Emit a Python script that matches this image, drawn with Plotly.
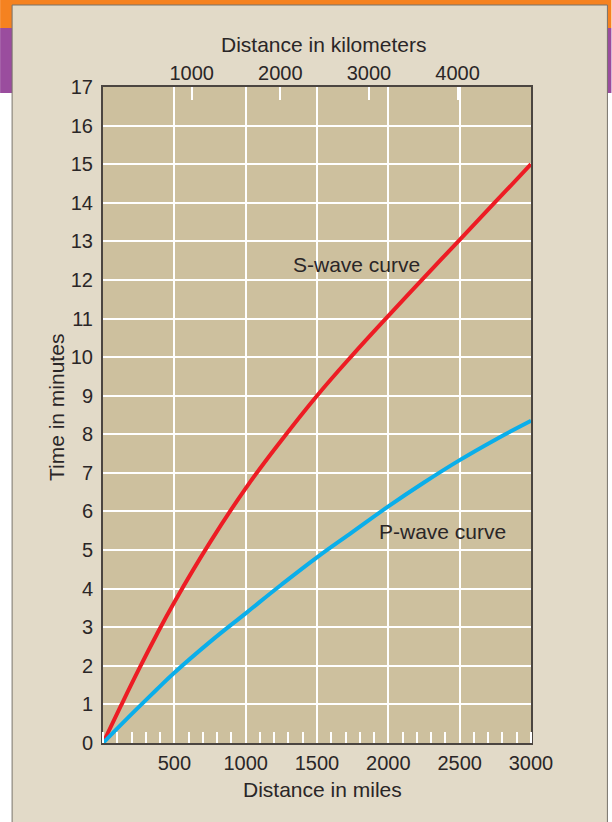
import plotly.graph_objects as go

# ---- data ----
miles = [0, 125, 250, 375, 500, 750, 1000, 1250, 1500, 1750, 2000, 2250, 2500, 2750, 3000]
s_wave = [0, 0.96, 1.9, 2.8, 3.65, 5.2, 6.6, 7.84, 9.0, 10.06, 11.07, 12.06, 13.04, 14.02, 15.0]
p_wave = [0, 0.47, 0.93, 1.38, 1.82, 2.62, 3.36, 4.1, 4.81, 5.47, 6.13, 6.75, 7.33, 7.86, 8.35]
mile_ticks = [500, 1000, 1500, 2000, 2500, 3000]
km_ticks = [1000, 2000, 3000, 4000]
minute_ticks = list(range(0, 18))
KM_PER_MILE = 1.609344

W, H = 612, 822
L, R, T, B = 103, 531.5, 87, 743  # plot area in px

def px(x):
    return (x - L) / (R - L)

def py(y):
    return (B - y) / (B - T)

TXT = "#2a2627"
FONT = "Liberation Sans, Arial, Helvetica, sans-serif"

fig = go.Figure()
fig.add_trace(go.Scatter(x=miles, y=s_wave, mode="lines",
                         line=dict(color="#ed1c24", width=4, shape="spline", smoothing=1.2),
                         showlegend=False, hoverinfo="skip"))
fig.add_trace(go.Scatter(x=miles, y=p_wave, mode="lines",
                         line=dict(color="#0aaeea", width=4, shape="spline", smoothing=1.2),
                         showlegend=False, hoverinfo="skip"))
# invisible trace on the kilometre axis so it is drawn
fig.add_trace(go.Scatter(x=[m * KM_PER_MILE for m in miles], y=s_wave, xaxis="x2", mode="lines",
                         line=dict(width=0), opacity=0, showlegend=False, hoverinfo="skip"))

shapes = [
    dict(type="rect", xref="paper", yref="paper", x0=px(0), x1=px(W), y0=py(0), y1=py(28),
         fillcolor="#f58220", line=dict(width=0), layer="below"),
    dict(type="rect", xref="paper", yref="paper", x0=px(0), x1=px(W), y0=py(28), y1=py(93),
         fillcolor="#9a4d9e", line=dict(width=0), layer="below"),
    dict(type="rect", xref="paper", yref="paper", x0=px(12), x1=px(608), y0=py(5), y1=py(H + 5),
         fillcolor="#e2dac8", line=dict(width=1, color="#77726a"), layer="below"),
    dict(type="rect", xref="paper", yref="paper", x0=0, x1=1, y0=0, y1=1,
         fillcolor="#cdc09e", line=dict(width=0), layer="below"),
]

def ann(text, x, y, **kw):
    return dict(text=text, x=x, y=y, showarrow=False, xanchor="center", yanchor="middle",
                font=dict(size=21, color=TXT, family=FONT), **kw)

annotations = [
    ann("S-wave curve", 1777, 12.39, xref="x", yref="y"),
    ann("P-wave curve", 2381, 5.48, xref="x", yref="y"),
    ann("Distance in miles", px(323), py(790), xref="paper", yref="paper"),
    ann("Distance in kilometers", px(324), py(44), xref="paper", yref="paper"),
    ann("Time in minutes", px(56), py(408), xref="paper", yref="paper", textangle=-90),
]

fig.update_layout(
    width=W, height=H,
    margin=dict(l=L, r=W - R, t=T, b=H - B, pad=0),
    paper_bgcolor="white", plot_bgcolor="rgba(0,0,0,0)",
    shapes=shapes, annotations=annotations,
    font=dict(family=FONT, color=TXT, size=20),
    xaxis=dict(range=[0, 3000], tickvals=mile_ticks, ticktext=[str(v) for v in mile_ticks],
               showgrid=True, gridcolor="white", gridwidth=1.5,
               showline=True, linecolor="#4b4540", linewidth=2, mirror=True,
               ticks="", ticklabelstandoff=1, zeroline=False,
               minor=dict(dtick=100, tick0=0, ticks="inside", ticklen=11, tickcolor="white",
                          tickwidth=1.5, showgrid=False),
               tickfont=dict(size=20, color=TXT)),
    xaxis2=dict(range=[0, 3000 * KM_PER_MILE], overlaying="x", side="top", tickvals=km_ticks,
                ticktext=[str(v) for v in km_ticks],
                ticks="inside", ticklen=13, tickcolor="white", tickwidth=1.5,
                showgrid=False, zeroline=False, showline=False, ticklabelstandoff=2,
                tickfont=dict(size=20, color=TXT)),
    yaxis=dict(range=[0, 17], tickvals=minute_ticks, ticktext=[str(v) for v in minute_ticks],
               showgrid=True, gridcolor="white", gridwidth=1.5,
               showline=True, linecolor="#4b4540", linewidth=2, mirror=True,
               ticks="", ticklabelstandoff=4, zeroline=False,
               tickfont=dict(size=20, color=TXT)),
)

fig.write_html("out.html", config={"displayModeBar": False},
               post_script="document.body.style.margin='0';document.body.style.padding='0';")
